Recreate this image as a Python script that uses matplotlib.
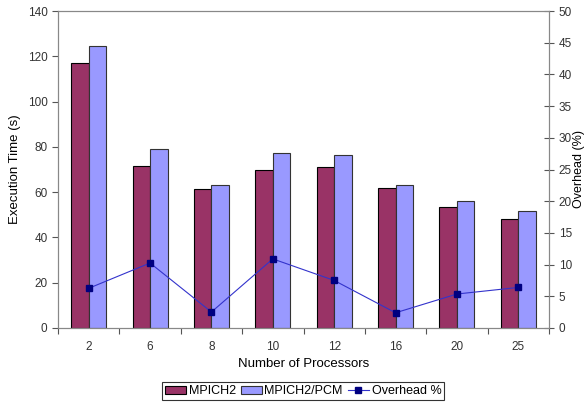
import numpy as np
import matplotlib.pyplot as plt

plt.rcParams['font.family'] = ['Liberation Sans', 'DejaVu Sans']

processors = ['2', '6', '8', '10', '12', '16', '20', '25']
mpich2 = [117.2, 71.7, 61.5, 69.8, 71.1, 61.7, 53.6, 48.1]
mpich2_pcm = [124.4, 78.9, 63.0, 77.4, 76.3, 63.3, 56.2, 51.5]
overhead = [6.26, 10.25, 2.52, 10.9, 7.5, 2.4, 5.36, 6.4]

fig = plt.figure(figsize=(5.86, 4.03), dpi=100)
ax = fig.add_axes([58 / 586, 1 - 328 / 403, 491 / 586, 317 / 403])
ax2 = ax.twinx()

x = np.arange(len(processors))
w = 0.285
b1 = ax.bar(x - w / 2, mpich2, w, color='#993366', edgecolor='black', linewidth=0.8, label='MPICH2')
b2 = ax.bar(x + w / 2, mpich2_pcm, w, color='#9999FF', edgecolor='#333333', linewidth=0.8, label='MPICH2/PCM')
ln, = ax2.plot(x, overhead, color='#3333CC', linewidth=0.8, marker='s', markersize=5,
               markerfacecolor='#000080', markeredgecolor='#000080', label='Overhead %')

ax.set_xlim(-0.5, len(processors) - 0.5)
ax.set_ylim(0, 140)
ax.set_yticks(range(0, 141, 20))
ax2.set_ylim(0, 50)
ax2.set_yticks(range(0, 51, 5))

ax.set_xticks(x)
ax.set_xticklabels(processors)
ax.set_xticks(np.arange(-0.5, len(processors), 1), minor=True)
ax.tick_params(axis='x', which='major', length=0, pad=9)
ax.tick_params(axis='x', which='minor', length=4, width=0.8, color='#555555')
ax.tick_params(axis='y', length=4, width=0.8, color='#555555')
ax2.tick_params(axis='y', direction='inout', length=7, width=0.8, color='#555555')
for a in (ax, ax2):
    a.tick_params(labelsize=8.5, labelcolor='#333333')
    for s in a.spines.values():
        s.set_color('#888888')
        s.set_linewidth(0.8)

ax.set_xlabel('Number of Processors', fontsize=9.5, labelpad=4)
ax.set_ylabel('Execution Time (s)', fontsize=9.5, labelpad=5)
ax2.set_ylabel('Overhead (%)', fontsize=9, labelpad=0.5)

leg = fig.legend([b1, b2, ln], ['MPICH2', 'MPICH2/PCM', 'Overhead %'], loc='center',
                 bbox_to_anchor=(303 / 586, 1 - 391 / 403), ncol=3, fontsize=9,
                 frameon=True, fancybox=False, edgecolor='black', handlelength=1.7,
                 handleheight=0.6, handletextpad=0.2, columnspacing=0.4, borderpad=0.25)
leg.get_frame().set_linewidth(0.8)

fig.savefig('out.png', dpi=100)
